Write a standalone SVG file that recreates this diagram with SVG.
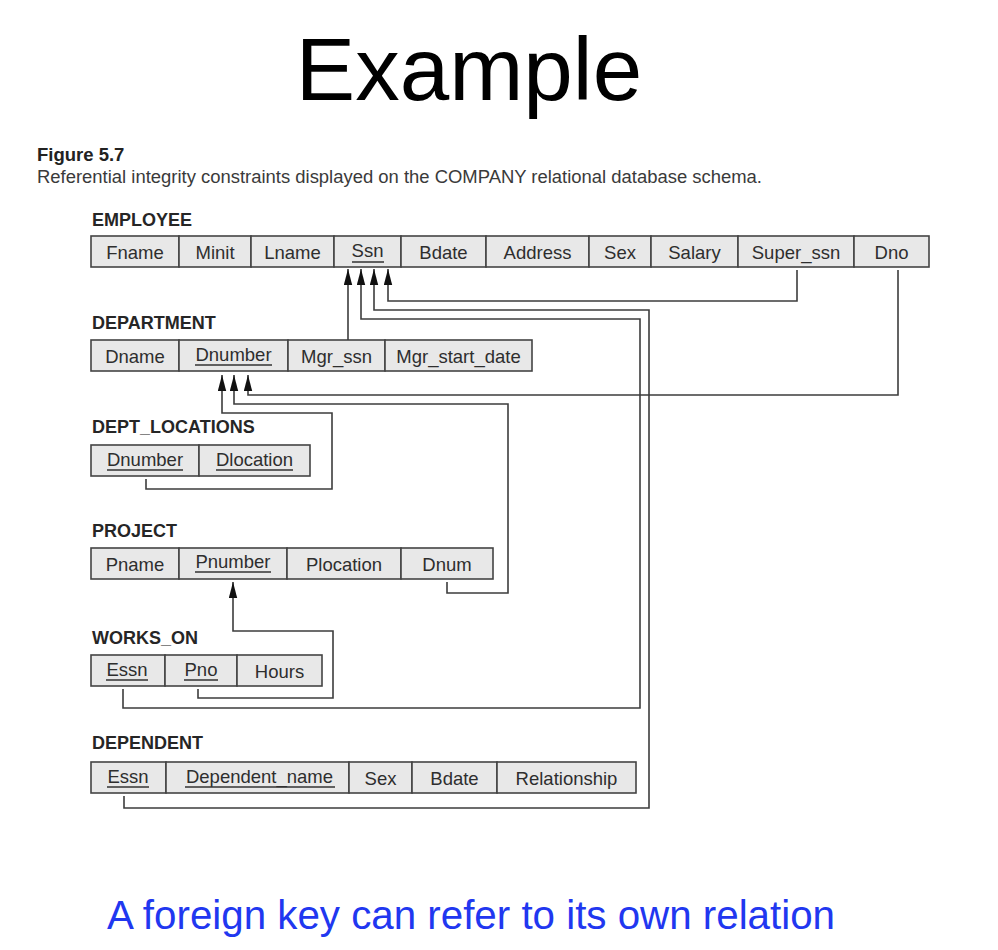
<svg xmlns="http://www.w3.org/2000/svg" width="998" height="950" viewBox="0 0 998 950">
  <style>
    .title { font-family: "Liberation Sans", Arial, sans-serif; font-size: 89px; fill: #000; }
    .note { font-family: "Liberation Sans", Arial, sans-serif; font-size: 40px; fill: #2137f0; }
    .fig { font-family: "Liberation Sans", Arial, sans-serif; font-size: 18.5px; font-weight: bold; fill: #222; }
    .cap { font-family: "Liberation Sans", Arial, sans-serif; font-size: 18.3px; fill: #3a3a3a; }
    .rel { font-family: "Liberation Sans", Arial, sans-serif; font-size: 18px; font-weight: bold; fill: #262626; }
    .cell { fill: #e8e8e8; stroke: #444; stroke-width: 1.6; }
    .attr { font-family: "Liberation Sans", Arial, sans-serif; font-size: 18.5px; fill: #2e2e2e; text-anchor: middle; }
    .key { stroke: #333; stroke-width: 1.5; }
    .fk { fill: none; stroke: #3d3d3d; stroke-width: 1.6; }
  </style>
  <defs>
    <marker id="arrow" markerUnits="userSpaceOnUse" markerWidth="16" markerHeight="9" viewBox="0 -4.5 16 9" refX="16" refY="0" orient="auto">
      <path d="M0,-4.2 L16,0 L0,4.2 z" fill="#111"/>
    </marker>
  </defs>

  <rect width="998" height="950" fill="#fff"/>

  <text class="title" x="469" y="100" text-anchor="middle">Example</text>
  <text class="fig" x="37" y="161">Figure 5.7</text>
  <text class="cap" x="37" y="183" textLength="725" lengthAdjust="spacingAndGlyphs">Referential integrity constraints displayed on the COMPANY relational database schema.</text>

  <!-- EMPLOYEE -->
  <g id="employee">
    <text class="rel" x="92" y="226">EMPLOYEE</text>
    <rect class="cell" x="91" y="236" width="88" height="31"/>
    <rect class="cell" x="179" y="236" width="72" height="31"/>
    <rect class="cell" x="251" y="236" width="83" height="31"/>
    <rect class="cell" x="334" y="236" width="67" height="31"/>
    <rect class="cell" x="401" y="236" width="85" height="31"/>
    <rect class="cell" x="486" y="236" width="103" height="31"/>
    <rect class="cell" x="589" y="236" width="62" height="31"/>
    <rect class="cell" x="651" y="236" width="87" height="31"/>
    <rect class="cell" x="738" y="236" width="116" height="31"/>
    <rect class="cell" x="854" y="236" width="75" height="31"/>
    <text class="attr" x="135" y="258.5">Fname</text>
    <text class="attr" x="215" y="258.5">Minit</text>
    <text class="attr" x="292.5" y="258.5">Lname</text>
    <text class="attr" x="367.5" y="257">Ssn</text>
    <line class="key" x1="352" y1="262" x2="384" y2="262"/>
    <text class="attr" x="443.5" y="258.5">Bdate</text>
    <text class="attr" x="537.5" y="258.5">Address</text>
    <text class="attr" x="620" y="258.5">Sex</text>
    <text class="attr" x="694.5" y="258.5">Salary</text>
    <text class="attr" x="796" y="258.5">Super_ssn</text>
    <text class="attr" x="891.5" y="258.5">Dno</text>
  </g>

  <!-- DEPARTMENT -->
  <g id="department">
    <text class="rel" x="92" y="329">DEPARTMENT</text>
    <rect class="cell" x="91" y="340" width="88" height="31"/>
    <rect class="cell" x="179" y="340" width="109" height="31"/>
    <rect class="cell" x="288" y="340" width="97" height="31"/>
    <rect class="cell" x="385" y="340" width="147" height="31"/>
    <text class="attr" x="135" y="362.5">Dname</text>
    <text class="attr" x="233.5" y="361">Dnumber</text>
    <line class="key" x1="195" y1="365" x2="272" y2="365"/>
    <text class="attr" x="336.5" y="362.5">Mgr_ssn</text>
    <text class="attr" x="458.5" y="362.5">Mgr_start_date</text>
  </g>

  <!-- DEPT_LOCATIONS -->
  <g id="dept_locations">
    <text class="rel" x="92" y="433">DEPT_LOCATIONS</text>
    <rect class="cell" x="91" y="445" width="108" height="31"/>
    <rect class="cell" x="199" y="445" width="111" height="31"/>
    <text class="attr" x="145" y="466">Dnumber</text>
    <line class="key" x1="107" y1="470" x2="183" y2="470"/>
    <text class="attr" x="254.5" y="466">Dlocation</text>
    <line class="key" x1="216" y1="470" x2="293" y2="470"/>
  </g>

  <!-- PROJECT -->
  <g id="project">
    <text class="rel" x="92" y="537">PROJECT</text>
    <rect class="cell" x="91" y="548" width="88" height="31"/>
    <rect class="cell" x="179" y="548" width="108" height="31"/>
    <rect class="cell" x="287" y="548" width="114" height="31"/>
    <rect class="cell" x="401" y="548" width="92" height="31"/>
    <text class="attr" x="135" y="570.5">Pname</text>
    <text class="attr" x="233" y="567.5">Pnumber</text>
    <line class="key" x1="195" y1="572" x2="271" y2="572"/>
    <text class="attr" x="344" y="570.5">Plocation</text>
    <text class="attr" x="447" y="570.5">Dnum</text>
  </g>

  <!-- WORKS_ON -->
  <g id="works_on">
    <text class="rel" x="92" y="644">WORKS_ON</text>
    <rect class="cell" x="91" y="655" width="74" height="31"/>
    <rect class="cell" x="165" y="655" width="72" height="31"/>
    <rect class="cell" x="237" y="655" width="85" height="31"/>
    <text class="attr" x="127" y="676">Essn</text>
    <line class="key" x1="106" y1="680" x2="148" y2="680"/>
    <text class="attr" x="201" y="676">Pno</text>
    <line class="key" x1="184" y1="680" x2="218" y2="680"/>
    <text class="attr" x="279.5" y="677.5">Hours</text>
  </g>

  <!-- DEPENDENT -->
  <g id="dependent">
    <text class="rel" x="92" y="749">DEPENDENT</text>
    <rect class="cell" x="91" y="762" width="75" height="31"/>
    <rect class="cell" x="166" y="762" width="183" height="31"/>
    <rect class="cell" x="349" y="762" width="63" height="31"/>
    <rect class="cell" x="412" y="762" width="85" height="31"/>
    <rect class="cell" x="497" y="762" width="139" height="31"/>
    <text class="attr" x="128" y="783">Essn</text>
    <line class="key" x1="107" y1="787" x2="149" y2="787"/>
    <text class="attr" x="259.5" y="783">Dependent_name</text>
    <line class="key" x1="185" y1="787" x2="335" y2="787"/>
    <text class="attr" x="380.5" y="784.5">Sex</text>
    <text class="attr" x="454.5" y="784.5">Bdate</text>
    <text class="attr" x="566.5" y="784.5">Relationship</text>
  </g>

  <!-- referential integrity links (foreign key to primary key) -->
  <g id="connectors">
    <polyline class="fk" points="348,340 348,269" marker-end="url(#arrow)"/>
    <polyline class="fk" points="123,689 123,708 640,708 640,319 361,319 361,269" marker-end="url(#arrow)"/>
    <polyline class="fk" points="124,796 124,808 649,808 649,310 374,310 374,269" marker-end="url(#arrow)"/>
    <polyline class="fk" points="797,270 797,301 388,301 388,269" marker-end="url(#arrow)"/>
    <polyline class="fk" points="898,270 898,395 248,395 248,375" marker-end="url(#arrow)"/>
    <polyline class="fk" points="447,582 447,593 508,593 508,404 234,404 234,375" marker-end="url(#arrow)"/>
    <polyline class="fk" points="146,479 146,489 332,489 332,413 222,413 222,375" marker-end="url(#arrow)"/>
    <polyline class="fk" points="198,689 198,698 333,698 333,631 233,631 233,582" marker-end="url(#arrow)"/>
  </g>

  <text class="note" x="107" y="929" textLength="728" lengthAdjust="spacingAndGlyphs">A foreign key can refer to its own relation</text>
</svg>
